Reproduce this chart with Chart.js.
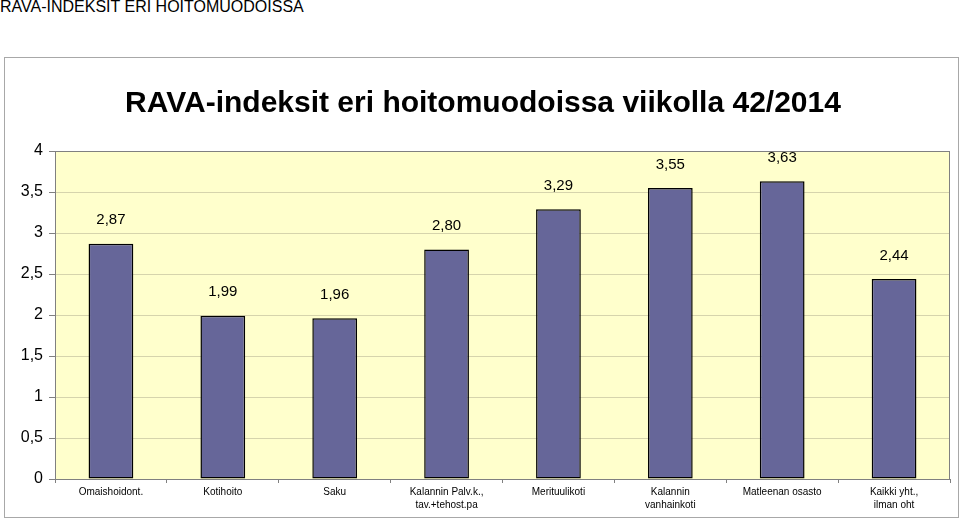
<!DOCTYPE html>
<html>
<head>
<meta charset="utf-8">
<script src="https://cdn.jsdelivr.net/npm/chart.js@4/dist/chart.umd.min.js"></script>
<style>
  body { margin: 0; background: #fff; font-family: "Liberation Sans", Arial, sans-serif; }
  #head { position: absolute; left: 0; top: -2px; font-size: 16px; color: #000; }
  #box { position: absolute; left: 4px; top: 57px; width: 953px; height: 459px; border: 1px solid #a8a8a8; background: #fff; }
  canvas { display: block; }
</style>
</head>
<body>
<div id="head">RAVA-INDEKSIT ERI HOITOMUODOISSA</div>
<div id="box"><canvas id="myChart" width="953" height="459"></canvas></div>
<script>
const title = "RAVA-indeksit eri hoitomuodoissa viikolla 42/2014";
const categories = [
  "Omaishoidont.",
  "Kotihoito",
  "Saku",
  ["Kalannin Palv.k.,", "tav.+tehost.pa"],
  "Merituulikoti",
  ["Kalannin", "vanhainkoti"],
  "Matleenan osasto",
  ["Kaikki yht.,", "ilman oht"]
];
const values = [2.87, 1.99, 1.96, 2.80, 3.29, 3.55, 3.63, 2.44];
const yTicks = [0, 0.5, 1, 1.5, 2, 2.5, 3, 3.5, 4];

const fmt = (v) => String(v).replace(".", ",");

const plotBg = {
  id: "plotBg",
  beforeDraw(chart) {
    const { ctx, chartArea: a } = chart;
    ctx.save();
    ctx.fillStyle = "#ffffcc";
    ctx.fillRect(a.left, a.top, a.right - a.left, a.bottom - a.top);
    ctx.restore();
  },
  afterDatasetsDraw(chart) {
    const { ctx, chartArea: a } = chart;
    ctx.save();
    ctx.strokeStyle = "#808080";
    ctx.lineWidth = 1;
    ctx.strokeRect(a.left + 0.5, a.top + 0.5, a.right - a.left - 1, a.bottom - a.top);
    // title
    ctx.fillStyle = "#000";
    ctx.font = "bold 30px 'Liberation Sans', Arial";
    ctx.textAlign = "center";
    ctx.textBaseline = "middle";
    ctx.fillText(title, 478, 46);
    // value labels
    ctx.font = "15px 'Liberation Sans', Arial";
    ctx.textBaseline = "bottom";
    const meta = chart.getDatasetMeta(0);
    meta.data.forEach((bar, i) => {
      ctx.fillText(fmt(values[i].toFixed(2)), bar.x, bar.y - 16);
    });
    ctx.restore();
  }
};

const ctx = document.getElementById("myChart").getContext("2d");
new Chart(ctx, {
  type: "bar",
  data: {
    labels: categories,
    datasets: [{
      data: values,
      backgroundColor: "#666699",
      borderColor: "#000",
      borderWidth: 1.5,
      borderSkipped: false,
      barPercentage: 0.4,
      categoryPercentage: 1
    }]
  },
  options: {
    responsive: false,
    animation: false,
    layout: { padding: { top: 93, right: 8, left: 0, bottom: 0 } },
    plugins: { legend: { display: false }, tooltip: { enabled: false } },
    scales: {
      x: {
        afterFit(s) { s.height = 38; },
        grid: { display: true, drawOnChartArea: false, offset: true, tickLength: 4, color: "#808080" },
        border: { color: "#808080" },
        ticks: { color: "#000", font: { size: 10, family: "'Liberation Sans', Arial", lineHeight: 1.3 }, maxRotation: 0, autoSkip: false, padding: 3 }
      },
      y: {
        min: 0,
        max: 4,
        afterFit(s) { s.width = 50; },
        afterBuildTicks(s) { s.ticks = yTicks.map((v) => ({ value: v })); },
        grid: { color: "#d6d4ac", tickLength: 6, tickColor: "#808080" },
        border: { color: "#808080" },
        ticks: { color: "#000", font: { size: 16, family: "'Liberation Sans', Arial" }, padding: 6, callback: (v) => fmt(v) }
      }
    }
  },
  plugins: [plotBg]
});
</script>
</body>
</html>
